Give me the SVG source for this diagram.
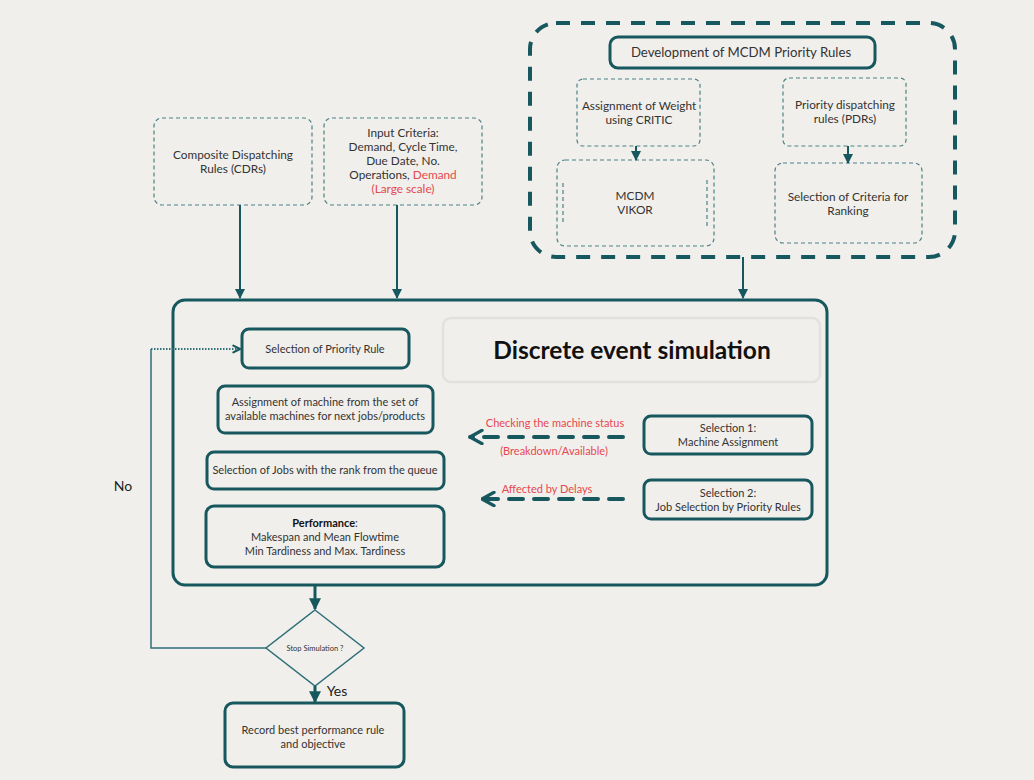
<svg xmlns="http://www.w3.org/2000/svg" width="1034" height="780" viewBox="0 0 1034 780">
<style>
text{font-family:Lato,"Open Sans","Liberation Sans",sans-serif;fill:#333;font-size:11px;text-anchor:middle}
.top{font-size:11.8px}
.solid{fill:none;stroke:#17585f;stroke-width:3}
.thin{fill:none;stroke:#4a8288;stroke-width:1.2;stroke-dasharray:4 3}
.conn{fill:none;stroke:#17585f;stroke-width:2}
.red{fill:#e5484f}
</style>
<defs>
<marker id="ah" viewBox="0 0 10 10" refX="9" refY="5" markerWidth="5" markerHeight="5" orient="auto" markerUnits="strokeWidth">
<path d="M0,0 L10,5 L0,10 z" fill="#17585f"/>
</marker>
<marker id="ahb" viewBox="0 0 10 10" refX="9" refY="5" markerWidth="4" markerHeight="4" orient="auto" markerUnits="strokeWidth">
<path d="M0,0 L10,5 L0,10 z" fill="#17585f"/>
</marker>
<marker id="chev" viewBox="0 0 12 12" refX="11" refY="6" markerWidth="4" markerHeight="4" orient="auto" markerUnits="strokeWidth">
<path d="M2,1 L11,6 L2,11" fill="none" stroke="#17585f" stroke-width="2.5" stroke-linecap="round" stroke-linejoin="round"/>
</marker>
<marker id="chevs" viewBox="0 0 12 12" refX="11" refY="6" markerWidth="5" markerHeight="5" orient="auto" markerUnits="strokeWidth">
<path d="M3,2 L11,6 L3,10" fill="none" stroke="#17585f" stroke-width="2.5" stroke-linecap="round" stroke-linejoin="round"/>
</marker>
</defs>
<rect width="1034" height="780" fill="#f1efeb"/>

<g id="mcdm-group">
<rect x="530" y="23" width="425" height="234" rx="26" fill="none" stroke="#17585f" stroke-width="4" stroke-dasharray="14 11"/>
</g>
<g id="dev-mcdm">
<rect class="solid" x="610" y="37" width="265" height="31" rx="8"/>
<text x="741" y="57" style="font-size:13.2px">Development of MCDM Priority Rules</text>
</g>
<g id="critic">
<rect class="thin" x="577" y="79" width="123" height="67" rx="6"/>
<text class="top" x="639" y="110">Assignment of Weight</text>
<text class="top" x="639" y="124">using CRITIC</text>
</g>
<g id="vikor">
<rect class="thin" x="557" y="160" width="157" height="86" rx="8"/>
<line class="thin" x1="563" y1="183" x2="563" y2="225"/>
<line class="thin" x1="707" y1="180" x2="707" y2="228"/>
<text class="top" x="635" y="200">MCDM</text>
<text class="top" x="635" y="214">VIKOR</text>
</g>
<g id="pdrs">
<rect class="thin" x="783" y="78" width="123" height="68" rx="6"/>
<text class="top" x="845" y="109">Priority dispatching</text>
<text class="top" x="845" y="123">rules (PDRs)</text>
</g>
<g id="criteria">
<rect class="thin" x="775" y="163" width="147" height="80" rx="8"/>
<text class="top" x="848" y="201">Selection of Criteria for</text>
<text class="top" x="848" y="215">Ranking</text>
</g>
<g id="cdrs">
<rect class="thin" x="154" y="118" width="158" height="87" rx="8"/>
<text class="top" x="233" y="159">Composite Dispatching</text>
<text class="top" x="233" y="173">Rules (CDRs)</text>
</g>
<g id="input">
<rect class="thin" x="324" y="118" width="158" height="87" rx="8"/>
<text class="top" x="403" y="137">Input Criteria:</text>
<text class="top" x="403" y="151">Demand, Cycle Time,</text>
<text class="top" x="403" y="165">Due Date, No.</text>
<text class="top" x="403" y="179">Operations, <tspan class="red">Demand</tspan></text>
<text class="top red" x="403" y="193">(Large scale)</text>
</g>

<g id="des">
<rect class="solid" x="173" y="300" width="654" height="285" rx="12"/>
<rect x="443" y="318" width="377" height="64" rx="8" fill="none" stroke="#e3e1dd" stroke-width="2.5"/>
<text x="632" y="359" style="font-size:24.5px;font-weight:bold;fill:#111">Discrete event simulation</text>
</g>
<g id="sel-priority">
<rect class="solid" x="242" y="329" width="167" height="39" rx="7"/>
<text x="325" y="353">Selection of Priority Rule</text>
</g>
<g id="assign-machine">
<rect class="solid" x="218" y="386" width="215" height="47" rx="7"/>
<text x="325" y="406">Assignment of machine from the set of</text>
<text x="325" y="420">available machines for next jobs/products</text>
</g>
<g id="sel-jobs">
<rect class="solid" x="207" y="452" width="237" height="37" rx="7"/>
<text x="325" y="474">Selection of Jobs with the rank from the queue</text>
</g>
<g id="performance">
<rect class="solid" x="206" y="506" width="238" height="61" rx="8"/>
<text x="325" y="527"><tspan style="font-weight:bold;fill:#111">Performance</tspan>:</text>
<text x="325" y="541">Makespan and Mean Flowtime</text>
<text x="325" y="555">Min Tardiness and Max. Tardiness</text>
</g>
<g id="selection1">
<rect class="solid" x="644" y="416" width="168" height="38" rx="7"/>
<text x="728" y="432">Selection 1:</text>
<text x="728" y="446">Machine Assignment</text>
</g>
<g id="selection2">
<rect class="solid" x="644" y="480" width="168" height="39" rx="7"/>
<text x="728" y="497">Selection 2:</text>
<text x="728" y="511">Job Selection by Priority Rules</text>
</g>
<g id="stop">
<polygon points="315,610 364,648 315,686 266,648" fill="none" stroke="#2f7078" stroke-width="1.5"/>
<text x="315" y="651" style="font-size:7.5px">Stop Simulation ?</text>
</g>
<g id="record">
<rect class="solid" x="225" y="703" width="179" height="64" rx="8"/>
<text x="313" y="734">Record best performance rule</text>
<text x="313" y="748">and objective</text>
</g>

<g id="connectors">
<line class="conn" x1="636" y1="146" x2="636" y2="160" marker-end="url(#ah)"/>
<line class="conn" x1="848" y1="146" x2="848" y2="163" marker-end="url(#ah)"/>
<line class="conn" x1="743" y1="257" x2="743" y2="298" marker-end="url(#ah)"/>
<line class="conn" x1="240" y1="205" x2="240" y2="298" marker-end="url(#ah)"/>
<line class="conn" x1="397" y1="205" x2="397" y2="298" marker-end="url(#ah)"/>
<line x1="315" y1="585" x2="315" y2="609" stroke="#17585f" stroke-width="3" marker-end="url(#ahb)"/>
<line x1="315" y1="686" x2="315" y2="702" stroke="#17585f" stroke-width="3" marker-end="url(#ahb)"/>
<polyline points="266,648 151,648 151,349" fill="none" stroke="#2f7078" stroke-width="1.5"/>
<line x1="151" y1="349" x2="240" y2="349" stroke="#2f7078" stroke-width="2" stroke-dasharray="1.5 1.5" marker-end="url(#chevs)"/>
<line x1="623" y1="437" x2="470" y2="437" stroke="#17585f" stroke-width="4" stroke-dasharray="14 11" stroke-linecap="round" marker-end="url(#chev)"/>
<line x1="623" y1="499" x2="482" y2="499" stroke="#17585f" stroke-width="4" stroke-dasharray="14 11" stroke-linecap="round" marker-end="url(#chev)"/>
<text x="555" y="427" style="fill:#e5484f">Checking the machine status</text>
<text x="554" y="455" style="fill:#e5484f">(Breakdown/Available)</text>
<text x="547" y="493" style="fill:#e5484f">Affected by Delays</text>
<text x="123" y="491" style="font-size:14px;fill:#222">No</text>
<text x="337" y="696" style="font-size:14px;fill:#222">Yes</text>
</g>
</svg>
